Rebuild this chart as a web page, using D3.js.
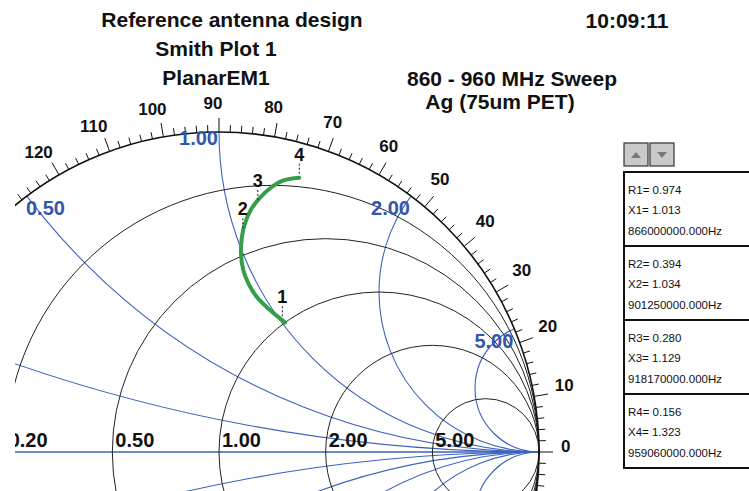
<!DOCTYPE html>
<html>
<head>
<meta charset="utf-8">
<script src="https://cdn.jsdelivr.net/npm/d3@7"></script>
<style>
	body { margin: 0; background: #fff; }
	svg { display: block; font-family: "Liberation Sans", Arial, sans-serif; }
	.hdr { font-size: 21px; font-weight: bold; fill: #111; }
	.angleLabel { font-size: 17px; font-weight: bold; fill: #111; }
	.resLabel { font-size: 20px; font-weight: bold; fill: #111; }
	.reacLabel { font-size: 20px; font-weight: bold; fill: #3356ad; }
	.markerLabel { font-size: 18px; font-weight: bold; fill: #111; }
	.panelText { font-size: 11.5px; fill: #111; }
</style>
</head>
<body>
<svg id="chart" width="749" height="491"></svg>
<script>

// chart data
var resistanceValues = [0.2, 0.5, 1, 2, 5];
var resistanceLabels = ["0.20", "0.50", "1.00", "2.00", "5.00"];
var reactanceValues = [0.2, 0.5, 1, 2, 5];
var reactanceLabels = ["0.20", "0.50", "1.00", "2.00", "5.00"];
var angleLabels = [0, 10, 20, 30, 40, 50, 60, 70, 80, 90, 100, 110, 120];

// measured impedance trace, 860 - 960 MHz (normalised R, X)
var traceR = [1.00, 0.974, 0.86, 0.74, 0.647, 0.57, 0.487, 0.41, 0.356, 0.30, 0.255, 0.213, 0.176, 0.156];
var traceX = [1.02, 1.013, 0.982, 0.957, 0.956, 0.966, 0.991, 1.025, 1.055, 1.095, 1.14, 1.19, 1.25, 1.323];

var markerNames = ["1", "2", "3", "4"];
var markerR = [0.974, 0.394, 0.280, 0.156];
var markerX = [1.013, 1.034, 1.129, 1.323];
var markerFreq = ["866000000.000", "901250000.000", "918170000.000", "959060000.000"];

var titleLines = ["Reference antenna design", "Smith Plot 1", "PlanarEM1"];

var svg = d3.select('#chart');

var cx = 219, cy = 452, R = 320;
var xScale = d3.scaleLinear().domain([-1, 1]).range([cx - R, cx + R]);
var yScale = d3.scaleLinear().domain([-1, 1]).range([cy + R, cy - R]);
var rScale = d3.scaleLinear().domain([0, 1]).range([0, R]);

function gamma(r, x) {
	// (z-1)/(z+1)
	var a = r - 1, b = x, c = r + 1, d = x;
	var den = c * c + d * d;
	return [(a * c + b * d) / den, (b * c - a * d) / den];
}

// where an angle label sits: just outside the ticks, pushed out by its box
function labelPos(d) {
	var a = (d + 1) * Math.PI / 180;
	var hw = String(d).length * 4.75, hh = 7;
	var c = Math.abs(Math.cos(a)), s = Math.abs(Math.sin(a));
	var edge = Math.min(c > 1e-6 ? hw / c : 1e9, s > 1e-6 ? hh / s : 1e9);
	var rr = R + 22 + edge;
	return [cx + rr * Math.cos(a), cy - rr * Math.sin(a)];
}

var defs = svg.append('defs');
defs.append('clipPath').attr('id', 'viewClip')
	.append('rect').attr('x', 15).attr('y', 0).attr('width', 600).attr('height', 491);
defs.append('clipPath').attr('id', 'discClip')
	.append('circle').attr('cx', cx).attr('cy', cy).attr('r', R);

// headers
svg.append('g').selectAll('text')
	.data(titleLines)
	.enter()
	.append('text')
	.attr('class', 'hdr')
	.attr('text-anchor', 'middle')
	.attr('x', function(d, i) { return i == 0 ? 232 : 216; })
	.attr('y', function(d, i) { return 27 + i * 29; })
	.text(function(d) { return d; });

svg.append('text').attr('class', 'hdr').attr('text-anchor', 'middle')
	.attr('x', 627).attr('y', 28).text('10:09:11');
svg.append('text').attr('class', 'hdr').attr('text-anchor', 'middle')
	.attr('x', 512).attr('y', 86).text('860 - 960 MHz Sweep');
svg.append('text').attr('class', 'hdr').attr('text-anchor', 'middle')
	.attr('x', 500).attr('y', 109).text('Ag (75um PET)');

var plot = svg.append('g').attr('clip-path', 'url(#viewClip)');
var disc = plot.append('g').attr('clip-path', 'url(#discClip)');

// reactance circles (blue)
var reac = reactanceValues.concat(reactanceValues.map(function(v) { return -v; }));
disc.selectAll('circle.reac')
	.data(reac)
	.enter()
	.append('circle')
	.attr('class', 'reac')
	.attr('cx', xScale(1))
	.attr('cy', function(d) { return yScale(1 / d); })
	.attr('r', function(d) { return rScale(1 / Math.abs(d)); })
	.attr('fill', 'none')
	.attr('stroke', '#3d62bd')
	.attr('stroke-width', 1.1);

plot.append('line')
	.attr('x1', xScale(-1)).attr('x2', xScale(1))
	.attr('y1', yScale(0)).attr('y2', yScale(0))
	.attr('stroke', '#3d62bd')
	.attr('stroke-width', 1.4);

// resistance circles (black)
plot.selectAll('circle.res')
	.data(resistanceValues)
	.enter()
	.append('circle')
	.attr('class', 'res')
	.attr('cx', function(d) { return xScale(d / (d + 1)); })
	.attr('cy', yScale(0))
	.attr('r', function(d) { return rScale(1 / (d + 1)); })
	.attr('fill', 'none')
	.attr('stroke', '#222')
	.attr('stroke-width', 1);

plot.append('circle')
	.attr('cx', cx).attr('cy', cy).attr('r', R)
	.attr('fill', 'none')
	.attr('stroke', '#111')
	.attr('stroke-width', 1.6);

// angle ticks
var tickAngles = d3.range(-180, 180, 2);
plot.append('g').selectAll('line')
	.data(tickAngles)
	.enter()
	.append('line')
	.attr('x1', function(d) { return cx + R * Math.cos(d * Math.PI / 180); })
	.attr('y1', function(d) { return cy - R * Math.sin(d * Math.PI / 180); })
	.attr('x2', function(d) {
		var len = d % 10 == 0 ? 14 : 7;
		return cx + (R + len) * Math.cos(d * Math.PI / 180);
	})
	.attr('y2', function(d) {
		var len = d % 10 == 0 ? 14 : 7;
		return cy - (R + len) * Math.sin(d * Math.PI / 180);
	})
	.attr('stroke', '#111')
	.attr('stroke-width', 1);

plot.append('g').selectAll('text')
	.data(angleLabels)
	.enter()
	.append('text')
	.attr('class', 'angleLabel')
	.attr('text-anchor', 'middle')
	.attr('dy', '0.36em')
	.text(function(d) { return d; })
	.attr('x', function(d) { return labelPos(d)[0]; })
	.attr('y', function(d) { return labelPos(d)[1]; });

// resistance labels on the real axis
plot.append('g').selectAll('text')
	.data(resistanceValues)
	.enter()
	.append('text')
	.attr('class', 'resLabel')
	.attr('x', function(d) { return xScale((d - 1) / (d + 1)) + 3; })
	.attr('y', yScale(0) - 5)
	.text(function(d, i) { return resistanceLabels[i]; });

// reactance labels where the arcs meet the outer circle
plot.append('g').selectAll('text')
	.data(reactanceValues)
	.enter()
	.append('text')
	.attr('class', 'reacLabel')
	.attr('text-anchor', function(d) {
		var g = gamma(0, d);
		return xScale(g[0]) - 40 < 15 ? 'start' : 'end';
	})
	.attr('x', function(d) { return xScale(gamma(0, d)[0]) - 1; })
	.attr('y', function(d) {
		var g = gamma(0, d);
		return yScale(g[1]) + (d == 1 ? 13 : 19);
	})
	.text(function(d, i) { return reactanceLabels[i]; });

// measured trace
var tracePts = traceR.map(function(r, i) { return gamma(r, traceX[i]); });
var line = d3.line()
	.x(function(d) { return xScale(d[0]); })
	.y(function(d) { return yScale(d[1]); })
	.curve(d3.curveCatmullRom);

plot.append('path')
	.datum(tracePts)
	.attr('d', line)
	.attr('fill', 'none')
	.attr('stroke', '#33a047')
	.attr('stroke-width', 4)
	.attr('stroke-linecap', 'round');

// markers
var mk = plot.append('g').selectAll('g')
	.data(markerNames)
	.enter()
	.append('g');

mk.append('text')
	.attr('class', 'markerLabel')
	.attr('text-anchor', 'middle')
	.attr('x', function(d, i) { return xScale(gamma(markerR[i], markerX[i])[0]); })
	.attr('y', function(d, i) { return yScale(gamma(markerR[i], markerX[i])[1]) - 17; })
	.text(function(d) { return d; });

mk.append('line')
	.attr('x1', function(d, i) { return xScale(gamma(markerR[i], markerX[i])[0]); })
	.attr('x2', function(d, i) { return xScale(gamma(markerR[i], markerX[i])[0]); })
	.attr('y1', function(d, i) { return yScale(gamma(markerR[i], markerX[i])[1]) - 14; })
	.attr('y2', function(d, i) { return yScale(gamma(markerR[i], markerX[i])[1]) - 4; })
	.attr('stroke', '#222')
	.attr('stroke-width', 1)
	.attr('stroke-dasharray', '2,2');

// marker readout panel
var panel = svg.append('g');
var btnX = [624, 650];
panel.selectAll('rect.btn')
	.data(btnX)
	.enter()
	.append('rect')
	.attr('class', 'btn')
	.attr('x', function(d) { return d; })
	.attr('y', 143)
	.attr('width', 24)
	.attr('height', 23)
	.attr('fill', '#c9c9c9')
	.attr('stroke', '#333')
	.attr('stroke-width', 1.2);
panel.append('path')
	.attr('d', 'M631,158 L636,152 L641,158 Z')
	.attr('fill', '#777');
panel.append('path')
	.attr('d', 'M657,152 L662,158 L667,152 Z')
	.attr('fill', '#777');

var boxTop = 172, boxH = 74;
var boxes = panel.selectAll('g.box')
	.data(markerNames)
	.enter()
	.append('g')
	.attr('class', 'box')
	.attr('transform', function(d, i) { return 'translate(624,' + (boxTop + i * boxH) + ')'; });

boxes.append('rect')
	.attr('x', 0).attr('y', 0)
	.attr('width', 140).attr('height', boxH)
	.attr('fill', '#fff')
	.attr('stroke', '#111')
	.attr('stroke-width', 2);

boxes.append('text').attr('class', 'panelText')
	.attr('x', 4).attr('y', 22)
	.text(function(d, i) { return 'R' + d + '= ' + markerR[i].toFixed(3); });
boxes.append('text').attr('class', 'panelText')
	.attr('x', 4).attr('y', 42)
	.text(function(d, i) { return 'X' + d + '= ' + markerX[i].toFixed(3); });
boxes.append('text').attr('class', 'panelText')
	.attr('x', 4).attr('y', 63)
	.text(function(d, i) { return markerFreq[i] + 'Hz'; });

</script>
</body>
</html>
